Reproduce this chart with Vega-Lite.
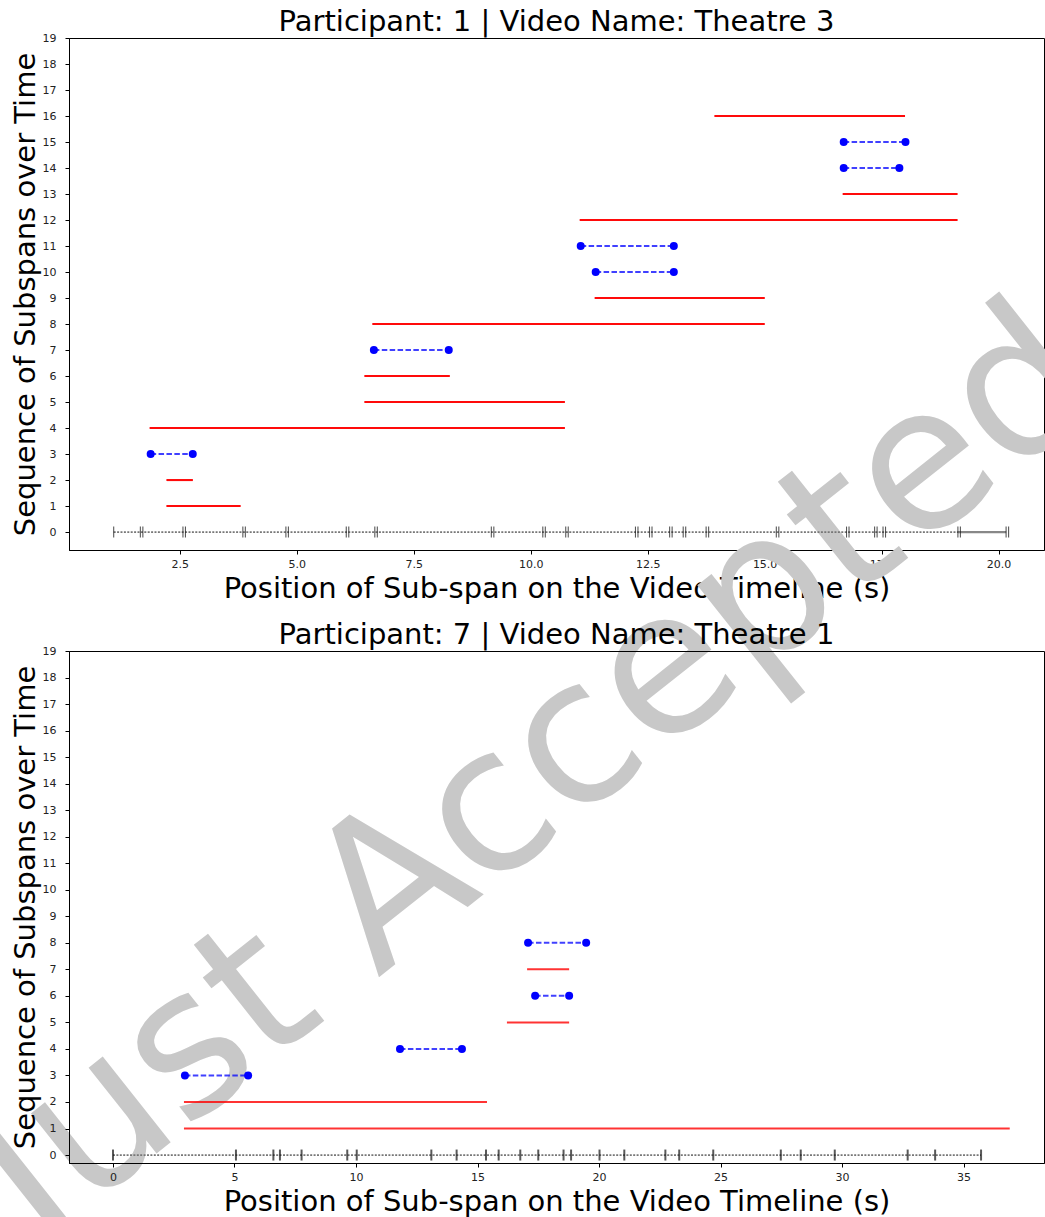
{
  "$schema": "https://vega.github.io/schema/vega-lite/v6.json",
  "background": "white",
  "padding": {"left": -61, "top": 7, "right": 0, "bottom": 0},
  "bounds": "flush",
  "spacing": 101,
  "datasets": {
    "spans": [
      {"panel": 1, "row": 16, "kind": "red", "start": 13.93, "end": 18.0},
      {"panel": 1, "row": 15, "kind": "blue", "start": 16.69, "end": 18.01},
      {"panel": 1, "row": 14, "kind": "blue", "start": 16.69, "end": 17.88},
      {"panel": 1, "row": 13, "kind": "red", "start": 16.67, "end": 19.12},
      {"panel": 1, "row": 12, "kind": "red", "start": 11.05, "end": 19.12},
      {"panel": 1, "row": 11, "kind": "blue", "start": 11.07, "end": 13.06},
      {"panel": 1, "row": 10, "kind": "blue", "start": 11.39, "end": 13.06},
      {"panel": 1, "row": 9, "kind": "red", "start": 11.37, "end": 15.0},
      {"panel": 1, "row": 8, "kind": "red", "start": 6.62, "end": 15.0},
      {"panel": 1, "row": 7, "kind": "blue", "start": 6.65, "end": 8.25},
      {"panel": 1, "row": 6, "kind": "red", "start": 6.45, "end": 8.27},
      {"panel": 1, "row": 5, "kind": "red", "start": 6.45, "end": 10.73},
      {"panel": 1, "row": 4, "kind": "red", "start": 1.86, "end": 10.73},
      {"panel": 1, "row": 3, "kind": "blue", "start": 1.88, "end": 2.78},
      {"panel": 1, "row": 2, "kind": "red", "start": 2.22, "end": 2.78},
      {"panel": 1, "row": 1, "kind": "red", "start": 2.22, "end": 3.8},
      {"panel": 2, "row": 8, "kind": "blue", "start": 17.08, "end": 19.47},
      {"panel": 2, "row": 7, "kind": "red", "start": 17.04, "end": 18.77},
      {"panel": 2, "row": 6, "kind": "blue", "start": 17.37, "end": 18.77},
      {"panel": 2, "row": 5, "kind": "red", "start": 16.21, "end": 18.77},
      {"panel": 2, "row": 4, "kind": "blue", "start": 11.81, "end": 14.36},
      {"panel": 2, "row": 3, "kind": "blue", "start": 2.96, "end": 5.56},
      {"panel": 2, "row": 2, "kind": "red", "start": 2.92, "end": 15.39},
      {"panel": 2, "row": 1, "kind": "red", "start": 2.92, "end": 36.9}
    ],
    "baseline": [
      {"panel": 1, "style": "dotted", "start": 1.09, "end": 20.16},
      {"panel": 1, "style": "solid", "start": 19.13, "end": 20.16},
      {"panel": 2, "style": "dotted", "start": 0.0, "end": 35.72}
    ],
    "marks": [
      {"panel": 1, "t": 1.09}, {"panel": 1, "t": 1.66}, {"panel": 1, "t": 2.57}, {"panel": 1, "t": 3.85},
      {"panel": 1, "t": 4.77}, {"panel": 1, "t": 6.06}, {"panel": 1, "t": 6.67}, {"panel": 1, "t": 9.16},
      {"panel": 1, "t": 10.26}, {"panel": 1, "t": 10.75}, {"panel": 1, "t": 12.24}, {"panel": 1, "t": 12.54},
      {"panel": 1, "t": 12.97}, {"panel": 1, "t": 13.26}, {"panel": 1, "t": 13.75}, {"panel": 1, "t": 15.25},
      {"panel": 1, "t": 16.75}, {"panel": 1, "t": 17.35}, {"panel": 1, "t": 17.53}, {"panel": 1, "t": 19.13},
      {"panel": 1, "t": 20.16},
      {"panel": 2, "t": 0.0}, {"panel": 2, "t": 5.06}, {"panel": 2, "t": 6.6}, {"panel": 2, "t": 6.87},
      {"panel": 2, "t": 7.76}, {"panel": 2, "t": 9.64}, {"panel": 2, "t": 10.03}, {"panel": 2, "t": 13.1},
      {"panel": 2, "t": 14.14}, {"panel": 2, "t": 15.35}, {"panel": 2, "t": 15.87}, {"panel": 2, "t": 16.76},
      {"panel": 2, "t": 17.5}, {"panel": 2, "t": 18.54}, {"panel": 2, "t": 18.85}, {"panel": 2, "t": 20.02},
      {"panel": 2, "t": 21.04}, {"panel": 2, "t": 22.73}, {"panel": 2, "t": 23.3}, {"panel": 2, "t": 24.7},
      {"panel": 2, "t": 27.48}, {"panel": 2, "t": 28.3}, {"panel": 2, "t": 29.7}, {"panel": 2, "t": 32.7},
      {"panel": 2, "t": 33.83}, {"panel": 2, "t": 35.72}
    ],
    "watermark": [
      {"label": "Just Accepted"}
    ]
  },
  "vconcat": [
    {
      "width": 975,
      "height": 512,
      "title": {"text": "Participant: 1 | Video Name: Theatre 3"},
      "layer": [
        {
          "data": {"name": "spans"},
          "transform": [{"filter": "datum.panel == 1 && datum.kind == 'red'"}],
          "mark": {"type": "rule", "color": "#ff0000", "opacity": 0.8, "strokeWidth": 2},
          "encoding": {
            "x": {"field": "start", "type": "quantitative", "scale": {"domain": [0.135, 20.97], "nice": false, "zero": false},
                  "axis": {"values": [2.5, 5, 7.5, 10, 12.5, 15, 17.5, 20], "format": ".1f", "title": "Position of Sub-span on the Video Timeline (s)"}},
            "x2": {"field": "end"},
            "y": {"field": "row", "type": "quantitative", "scale": {"domain": [-0.69, 19], "nice": false, "zero": false},
                  "axis": {"values": [0,1,2,3,4,5,6,7,8,9,10,11,12,13,14,15,16,17,18,19], "tickCount": 20, "labelOverlap": false, "format": "d", "title": "Sequence of Subspans over Time"}}
          }
        },
        {
          "data": {"name": "watermark"},
          "mark": {"type": "text", "font": "DejaVu Sans", "fontSize": 200, "angle": -38.4, "color": "#c8c8c8", "align": "center", "baseline": "middle"},
          "encoding": {
            "x": {"datum": 10.12, "type": "quantitative"},
            "y": {"datum": -9.38, "type": "quantitative"},
            "text": {"field": "label", "type": "nominal"}
          }
        },
        {
          "data": {"name": "spans"},
          "transform": [{"filter": "datum.panel == 1 && datum.kind == 'red'"}],
          "mark": {"type": "rule", "color": "#ff0000", "opacity": 0.8, "strokeWidth": 2},
          "encoding": {
            "x": {"field": "start", "type": "quantitative"},
            "x2": {"field": "end"},
            "y": {"field": "row", "type": "quantitative"}
          }
        },
        {
          "data": {"name": "baseline"},
          "transform": [{"filter": "datum.panel == 1 && datum.style == 'dotted'"}],
          "mark": {"type": "rule", "color": "#777777", "strokeWidth": 1.8, "strokeDash": [2, 1.4]},
          "encoding": {
            "x": {"field": "start", "type": "quantitative"},
            "x2": {"field": "end"},
            "y": {"datum": 0, "type": "quantitative"}
          }
        },
        {
          "data": {"name": "baseline"},
          "transform": [{"filter": "datum.panel == 1 && datum.style == 'solid'"}],
          "mark": {"type": "rule", "color": "#888888", "strokeWidth": 2.2},
          "encoding": {
            "x": {"field": "start", "type": "quantitative"},
            "x2": {"field": "end"},
            "y": {"datum": 0, "type": "quantitative"}
          }
        },
        {
          "data": {"name": "marks"},
          "transform": [{"filter": "datum.panel == 1"}],
          "mark": {"type": "tick", "orient": "vertical", "color": "#111111", "thickness": 1.1, "size": 11},
          "encoding": {
            "x": {"field": "t", "type": "quantitative"},
            "y": {"datum": 0, "type": "quantitative"}
          }
        },
        {
          "data": {"name": "marks"},
          "transform": [{"filter": "datum.panel == 1 && datum.t > 1.5"}],
          "mark": {"type": "tick", "orient": "vertical", "color": "#111111", "thickness": 1.1, "size": 11, "xOffset": 2.5},
          "encoding": {
            "x": {"field": "t", "type": "quantitative"},
            "y": {"datum": 0, "type": "quantitative"}
          }
        },
        {
          "data": {"name": "spans"},
          "transform": [{"filter": "datum.panel == 1 && datum.kind == 'blue'"}],
          "mark": {"type": "rule", "color": "#0000ff", "opacity": 0.75, "strokeWidth": 2, "strokeDash": [5.5, 2.4]},
          "encoding": {
            "x": {"field": "start", "type": "quantitative"},
            "x2": {"field": "end"},
            "y": {"field": "row", "type": "quantitative"}
          }
        },
        {
          "data": {"name": "spans"},
          "transform": [{"filter": "datum.panel == 1 && datum.kind == 'blue'"}],
          "mark": {"type": "circle", "color": "#0000ff", "opacity": 1, "size": 64},
          "encoding": {
            "x": {"field": "start", "type": "quantitative"},
            "y": {"field": "row", "type": "quantitative"}
          }
        },
        {
          "data": {"name": "spans"},
          "transform": [{"filter": "datum.panel == 1 && datum.kind == 'blue'"}],
          "mark": {"type": "circle", "color": "#0000ff", "opacity": 1, "size": 64},
          "encoding": {
            "x": {"field": "end", "type": "quantitative"},
            "y": {"field": "row", "type": "quantitative"}
          }
        }
      ]
    },
    {
      "width": 975,
      "height": 512,
      "title": {"text": "Participant: 7 | Video Name: Theatre 1"},
      "layer": [
        {
          "data": {"name": "spans"},
          "transform": [{"filter": "datum.panel == 2 && datum.kind == 'red'"}],
          "mark": {"type": "rule", "color": "#ff0000", "opacity": 0.8, "strokeWidth": 2},
          "encoding": {
            "x": {"field": "start", "type": "quantitative", "scale": {"domain": [-1.81, 38.31], "nice": false, "zero": false},
                  "axis": {"values": [0, 5, 10, 15, 20, 25, 30, 35], "format": "d", "title": "Position of Sub-span on the Video Timeline (s)"}},
            "x2": {"field": "end"},
            "y": {"field": "row", "type": "quantitative", "scale": {"domain": [-0.3, 19], "nice": false, "zero": false},
                  "axis": {"values": [0,1,2,3,4,5,6,7,8,9,10,11,12,13,14,15,16,17,18,19], "tickCount": 20, "labelOverlap": false, "format": "d", "title": "Sequence of Subspans over Time"}}
          }
        },
        {
          "data": {"name": "baseline"},
          "transform": [{"filter": "datum.panel == 2"}],
          "mark": {"type": "rule", "color": "#777777", "strokeWidth": 1.8, "strokeDash": [2, 1.4]},
          "encoding": {
            "x": {"field": "start", "type": "quantitative"},
            "x2": {"field": "end"},
            "y": {"datum": 0, "type": "quantitative"}
          }
        },
        {
          "data": {"name": "marks"},
          "transform": [{"filter": "datum.panel == 2"}],
          "mark": {"type": "tick", "orient": "vertical", "color": "#111111", "thickness": 2, "size": 11},
          "encoding": {
            "x": {"field": "t", "type": "quantitative"},
            "y": {"datum": 0, "type": "quantitative"}
          }
        },
        {
          "data": {"name": "spans"},
          "transform": [{"filter": "datum.panel == 2 && datum.kind == 'blue'"}],
          "mark": {"type": "rule", "color": "#0000ff", "opacity": 0.75, "strokeWidth": 2, "strokeDash": [5.5, 2.4]},
          "encoding": {
            "x": {"field": "start", "type": "quantitative"},
            "x2": {"field": "end"},
            "y": {"field": "row", "type": "quantitative"}
          }
        },
        {
          "data": {"name": "spans"},
          "transform": [{"filter": "datum.panel == 2 && datum.kind == 'blue'"}],
          "mark": {"type": "circle", "color": "#0000ff", "opacity": 1, "size": 64},
          "encoding": {
            "x": {"field": "start", "type": "quantitative"},
            "y": {"field": "row", "type": "quantitative"}
          }
        },
        {
          "data": {"name": "spans"},
          "transform": [{"filter": "datum.panel == 2 && datum.kind == 'blue'"}],
          "mark": {"type": "circle", "color": "#0000ff", "opacity": 1, "size": 64},
          "encoding": {
            "x": {"field": "end", "type": "quantitative"},
            "y": {"field": "row", "type": "quantitative"}
          }
        }
      ]
    }
  ],
  "config": {
    "font": "DejaVu Sans",
    "view": {"stroke": "black", "strokeWidth": 1},
    "axis": {
      "grid": false,
      "domainColor": "black",
      "tickColor": "black",
      "tickSize": 4,
      "labelFont": "DejaVu Sans",
      "labelFontSize": 11,
      "labelColor": "#222222",
      "labelFlush": false,
      "labelOverlap": false,
      "titleFont": "DejaVu Sans",
      "titleFontSize": 29,
      "titleFontWeight": "normal",
      "titleColor": "black"
    },
    "axisY": {"labelPadding": 9, "titlePadding": 2},
    "axisX": {"labelPadding": 4, "titlePadding": 5},
    "title": {"font": "DejaVu Sans", "fontSize": 29, "fontWeight": "normal", "color": "black", "offset": -5, "frame": "group"}
  }
}
